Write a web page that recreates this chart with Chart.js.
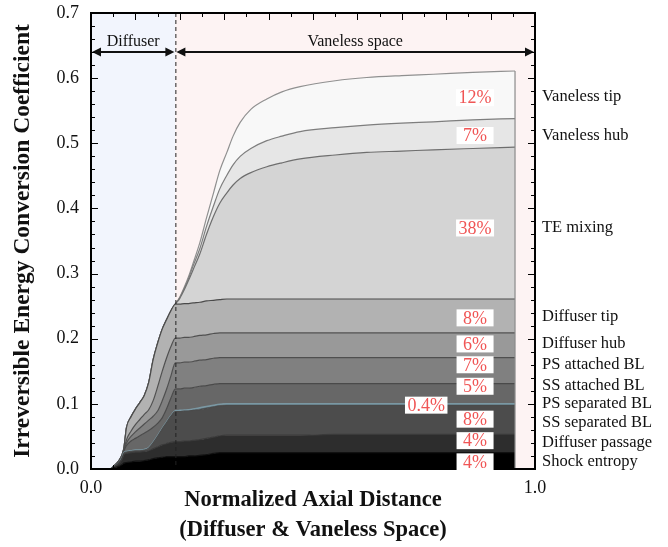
<!DOCTYPE html>
<html>
<head>
<meta charset="utf-8">
<script src="https://cdn.jsdelivr.net/npm/chart.js@4.4.1/dist/chart.umd.min.js"></script>
<style>
  html, body { margin: 0; padding: 0; background: #fff; }
  #wrap { width: 668px; height: 547px; }
</style>
</head>
<body>
<div id="wrap"><canvas id="irrChart" width="668" height="547"></canvas></div>
<script>
// normalized axial distance samples
const xs = [0, 0.043, 0.052, 0.062, 0.07, 0.074, 0.08, 0.09, 0.1, 0.11,
  0.12, 0.13, 0.14, 0.15, 0.16, 0.17, 0.18, 0.19, 0.2, 0.21,
  0.22, 0.23, 0.245, 0.26, 0.276, 0.29, 0.306, 0.32, 0.336, 0.36,
  0.396, 0.43, 0.471, 0.55, 0.621, 0.7, 0.771, 0.86, 0.955];

// cumulative top of each loss layer (bottom to top)
const shockEntropy = [0, 0, 0.002, 0.004, 0.007, 0.009, 0.010, 0.011, 0.012, 0.012,
  0.013, 0.014, 0.016, 0.017, 0.018, 0.019, 0.019, 0.019, 0.019, 0.019,
  0.020, 0.020, 0.021, 0.022, 0.024, 0.025, 0.025, 0.025, 0.025, 0.025,
  0.025, 0.025, 0.025, 0.025, 0.025, 0.025, 0.025, 0.025, 0.025];
const diffuserPassage = [0, 0, 0.003, 0.008, 0.015, 0.022, 0.024, 0.025, 0.026, 0.026,
  0.027, 0.028, 0.031, 0.034, 0.037, 0.039, 0.041, 0.042, 0.042, 0.043,
  0.043, 0.044, 0.045, 0.047, 0.049, 0.051, 0.052, 0.052, 0.052, 0.052,
  0.052, 0.052, 0.052, 0.053, 0.053, 0.053, 0.053, 0.053, 0.053];
const ssSeparatedBL = [0, 0, 0.004, 0.009, 0.017, 0.024, 0.026, 0.027, 0.028, 0.028,
  0.029, 0.032, 0.040, 0.050, 0.061, 0.071, 0.081, 0.088, 0.088, 0.089,
  0.089, 0.090, 0.091, 0.093, 0.095, 0.097, 0.0975, 0.0975, 0.0975, 0.0975,
  0.0975, 0.0975, 0.0975, 0.0975, 0.0975, 0.0975, 0.0975, 0.0975, 0.0975];
const psSeparatedBL = [0, 0, 0.004, 0.009, 0.017, 0.025, 0.027, 0.028, 0.029, 0.029,
  0.030, 0.033, 0.041, 0.051, 0.062, 0.072, 0.082, 0.0895, 0.090, 0.0905,
  0.091, 0.092, 0.094, 0.096, 0.098, 0.0995, 0.100, 0.100, 0.100, 0.100,
  0.100, 0.100, 0.100, 0.100, 0.100, 0.100, 0.100, 0.100, 0.100];
const ssAttachedBL = [0, 0, 0.004, 0.010, 0.018, 0.027, 0.036, 0.043, 0.047, 0.051,
  0.055, 0.059, 0.064, 0.070, 0.078, 0.092, 0.109, 0.123, 0.123, 0.124,
  0.124, 0.125, 0.127, 0.128, 0.130, 0.131, 0.131, 0.131, 0.131, 0.131,
  0.131, 0.131, 0.131, 0.131, 0.131, 0.131, 0.131, 0.131, 0.131];
const psAttachedBL = [0, 0, 0.004, 0.010, 0.019, 0.028, 0.040, 0.050, 0.057, 0.063,
  0.069, 0.075, 0.081, 0.089, 0.104, 0.122, 0.143, 0.163, 0.163, 0.164,
  0.164, 0.165, 0.167, 0.168, 0.170, 0.171, 0.171, 0.171, 0.171, 0.171,
  0.171, 0.171, 0.171, 0.171, 0.171, 0.171, 0.171, 0.171, 0.171];
const diffuserHub = [0, 0, 0.005, 0.011, 0.020, 0.029, 0.045, 0.058, 0.068, 0.076,
  0.084, 0.091, 0.105, 0.126, 0.149, 0.170, 0.188, 0.201, 0.201, 0.202,
  0.202, 0.203, 0.205, 0.206, 0.208, 0.209, 0.209, 0.209, 0.209, 0.209,
  0.209, 0.209, 0.209, 0.209, 0.209, 0.209, 0.209, 0.209, 0.209];
const diffuserTip = [0, 0, 0.005, 0.012, 0.022, 0.032, 0.064, 0.080, 0.092, 0.102,
  0.113, 0.133, 0.168, 0.193, 0.214, 0.229, 0.243, 0.253, 0.253, 0.254,
  0.254, 0.255, 0.256, 0.258, 0.259, 0.260, 0.261, 0.261, 0.261, 0.261,
  0.261, 0.261, 0.261, 0.261, 0.261, 0.261, 0.261, 0.261, 0.261];
const teMixing = [0, 0, 0.005, 0.012, 0.022, 0.032, 0.064, 0.080, 0.092, 0.102,
  0.113, 0.133, 0.168, 0.193, 0.214, 0.229, 0.243, 0.253, 0.262, 0.275,
  0.290, 0.306, 0.330, 0.360, 0.388, 0.408, 0.424, 0.436, 0.446, 0.455,
  0.464, 0.470, 0.476, 0.482, 0.486, 0.488, 0.490, 0.492, 0.494];
const vanelessHub = [0, 0, 0.005, 0.012, 0.022, 0.032, 0.064, 0.080, 0.092, 0.102,
  0.113, 0.133, 0.168, 0.193, 0.214, 0.229, 0.243, 0.253, 0.263, 0.277,
  0.293, 0.312, 0.338, 0.372, 0.404, 0.430, 0.451, 0.467, 0.480, 0.492,
  0.504, 0.511, 0.518, 0.524, 0.528, 0.531, 0.533, 0.536, 0.538];
const vanelessTip = [0, 0, 0.005, 0.012, 0.022, 0.032, 0.064, 0.080, 0.092, 0.102,
  0.113, 0.133, 0.168, 0.193, 0.214, 0.229, 0.243, 0.253, 0.264, 0.279,
  0.296, 0.316, 0.347, 0.385, 0.424, 0.458, 0.486, 0.511, 0.532, 0.552,
  0.568, 0.579, 0.587, 0.596, 0.601, 0.604, 0.606, 0.609, 0.611];

const layerNames = ['Shock entropy', 'Diffuser passage', 'SS separated BL', 'PS separated BL',
  'SS attached BL', 'PS attached BL', 'Diffuser hub', 'Diffuser tip',
  'TE mixing', 'Vaneless hub', 'Vaneless tip'];
const layerTops = [shockEntropy, diffuserPassage, ssSeparatedBL, psSeparatedBL,
  ssAttachedBL, psAttachedBL, diffuserHub, diffuserTip, teMixing, vanelessHub, vanelessTip];

// right-hand labels (top to bottom) and their heights
const sideLabels = ['Vaneless tip', 'Vaneless hub', 'TE mixing', 'Diffuser tip', 'Diffuser hub',
  'PS attached BL', 'SS attached BL', 'PS separated BL', 'SS separated BL',
  'Diffuser passage', 'Shock entropy'];
const sideLabelY = [0.572, 0.511, 0.370, 0.234, 0.192, 0.160, 0.128, 0.100, 0.071, 0.040, 0.011];

// share of each layer
const shareText = ['12%', '7%', '38%', '8%', '6%', '7%', '5%', '0.4%', '8%', '4%', '4%'];
const shareX = [0.865, 0.865, 0.865, 0.865, 0.865, 0.865, 0.865, 0.755, 0.865, 0.865, 0.865];
const shareY = [0.570, 0.512, 0.370, 0.232, 0.192, 0.160, 0.127, 0.098, 0.0765, 0.0435, 0.011];

// zones along the axis
const zoneEdges = [0, 0.19, 1.0];
const zoneNames = ['Diffuser', 'Vaneless space'];
const zoneArrowY = 0.64;
const zoneTextY = 0.65;

const fillColors = ['#000000', '#2d2d2d', '#4c4c4c', '#5b7079', '#676767', '#808080',
  '#999999', '#b2b2b2', '#d4d4d4', '#e6e6e6', '#f8f8f8'];
const lineColors = ['#111111', '#3a3a3a', '#4a4a4a', '#7b98a3', '#4a4a4a', '#4f4f4f',
  '#505050', '#4a4a4a', '#6e6e6e', '#7e7e7e', '#909090'];
const zoneColors = ['#f2f5fd', '#fdf3f3'];

const serif = '"Liberation Serif", "Times New Roman", serif';

const datasets = layerTops.map((tops, i) => ({
  label: layerNames[i],
  data: xs.map((x, j) => ({ x: x, y: tops[j] })),
  fill: i === 0 ? 'origin' : '-1',
  backgroundColor: fillColors[i],
  borderColor: lineColors[i],
  borderWidth: i === 3 ? 1.5 : 1.2,
  pointRadius: 0,
  cubicInterpolationMode: 'monotone'
}));

function arrowHead(ctx, x, y, dir) {
  ctx.beginPath();
  ctx.moveTo(x, y);
  ctx.lineTo(x - dir * 9, y - 4.5);
  ctx.lineTo(x - dir * 9, y + 4.5);
  ctx.closePath();
  ctx.fill();
}

const decorPlugin = {
  id: 'decor',
  beforeDatasetsDraw(chart) {
    const { ctx, chartArea: a, scales: { x } } = chart;
    ctx.save();
    for (let i = 0; i < zoneNames.length; i++) {
      const x0 = x.getPixelForValue(zoneEdges[i]);
      const x1 = x.getPixelForValue(zoneEdges[i + 1]);
      ctx.fillStyle = zoneColors[i];
      ctx.fillRect(x0, a.top, x1 - x0, a.bottom - a.top);
    }
    ctx.restore();
  },
  afterDatasetsDraw(chart) {
    const { ctx, chartArea: a, scales: { x, y } } = chart;
    ctx.save();

    // right edge of the stacked areas
    const last = xs.length - 1;
    const xe = x.getPixelForValue(xs[last]);
    ctx.strokeStyle = '#8a8a8a';
    ctx.lineWidth = 1.2;
    ctx.beginPath();
    ctx.moveTo(xe, y.getPixelForValue(0));
    ctx.lineTo(xe, y.getPixelForValue(vanelessTip[last]));
    ctx.stroke();

    // dashed zone divider
    const xd = x.getPixelForValue(zoneEdges[1]);
    ctx.strokeStyle = '#222';
    ctx.lineWidth = 1;
    ctx.setLineDash([4, 3]);
    ctx.beginPath();
    ctx.moveTo(xd + 0.5, a.top);
    ctx.lineTo(xd + 0.5, a.bottom);
    ctx.stroke();
    ctx.setLineDash([]);

    // zone arrows and names
    const ya = y.getPixelForValue(zoneArrowY);
    ctx.strokeStyle = '#111';
    ctx.fillStyle = '#111';
    ctx.lineWidth = 2;
    ctx.font = '16px ' + serif;
    ctx.textAlign = 'center';
    ctx.textBaseline = 'alphabetic';
    for (let i = 0; i < zoneNames.length; i++) {
      const x0 = x.getPixelForValue(zoneEdges[i]) + 1;
      const x1 = x.getPixelForValue(zoneEdges[i + 1]) - 1;
      ctx.beginPath();
      ctx.moveTo(x0 + 4, ya);
      ctx.lineTo(x1 - 4, ya);
      ctx.stroke();
      arrowHead(ctx, x0, ya, -1);
      arrowHead(ctx, x1, ya, 1);
      ctx.fillText(zoneNames[i], (x0 + x1) / 2, y.getPixelForValue(zoneTextY));
    }

    // frame
    ctx.strokeStyle = '#000';
    ctx.lineWidth = 2;
    ctx.strokeRect(a.left, a.top, a.right - a.left, a.bottom - a.top);

    // inward ticks
    ctx.lineWidth = 1;
    ctx.beginPath();
    for (let k = 0; k <= 35; k++) {
      const py = Math.round(y.getPixelForValue(k * 0.02)) + 0.5;
      const len = k % 5 === 0 ? 7 : 4;
      ctx.moveTo(a.left, py); ctx.lineTo(a.left + len, py);
      ctx.moveTo(a.right, py); ctx.lineTo(a.right - len, py);
    }
    for (let k = 0; k <= 20; k++) {
      const px = Math.round(x.getPixelForValue(k * 0.05)) + 0.5;
      const len = k % 2 === 0 ? 7 : 4;
      ctx.moveTo(px, a.top); ctx.lineTo(px, a.top + len);
      ctx.moveTo(px, a.bottom); ctx.lineTo(px, a.bottom - len);
    }
    ctx.stroke();

    // share boxes
    ctx.font = '18px ' + serif;
    ctx.textAlign = 'center';
    ctx.textBaseline = 'middle';
    shareText.forEach((t, i) => {
      const cx = x.getPixelForValue(shareX[i]);
      const cy = y.getPixelForValue(shareY[i]);
      const w = Math.max(ctx.measureText(t).width + 5, 37);
      ctx.fillStyle = '#ffffff';
      ctx.fillRect(cx - w / 2, cy - 8.5, w, 17);
      ctx.fillStyle = '#f05555';
      ctx.fillText(t, cx, cy + 1);
    });

    // layer names on the right
    ctx.font = '16.5px ' + serif;
    ctx.textAlign = 'left';
    ctx.fillStyle = '#111';
    sideLabels.forEach((t, i) => {
      ctx.fillText(t, a.right + 7, y.getPixelForValue(sideLabelY[i]));
    });

    ctx.restore();
  }
};

new Chart(document.getElementById('irrChart'), {
  type: 'line',
  data: { datasets: datasets },
  options: {
    responsive: false,
    animation: false,
    layout: { padding: { left: 0, top: 13, right: 133, bottom: 2 } },
    plugins: {
      legend: { display: false },
      tooltip: { enabled: false }
    },
    scales: {
      x: {
        type: 'linear',
        min: 0,
        max: 1,
        grid: { display: false, drawTicks: false },
        border: { display: false },
        ticks: {
          stepSize: 1,
          padding: 8,
          color: '#111',
          font: { family: serif, size: 18 },
          callback: (v) => v.toFixed(1)
        },
        title: {
          display: true,
          text: ['Normalized Axial Distance', '(Diffuser & Vaneless Space)'],
          color: '#111',
          font: { family: serif, size: 22.5, weight: 'bold', lineHeight: 1.33 },
          padding: { top: 0, bottom: 0 }
        },
        afterFit: (s) => { s.height = 76; }
      },
      y: {
        min: 0,
        max: 0.7,
        grid: { display: false, drawTicks: false },
        border: { display: false },
        ticks: {
          stepSize: 0.1,
          padding: 12,
          color: '#111',
          font: { family: serif, size: 18 },
          callback: (v) => v.toFixed(1)
        },
        title: {
          display: true,
          text: 'Irreversible Energy Conversion Coefficient',
          color: '#111',
          font: { family: serif, size: 23.5, weight: 'bold', lineHeight: 1.2 },
          padding: { top: 9, bottom: 0 }
        },
        afterFit: (s) => {
          s.width = 91;
          s.paddingTop = 0;
          s.paddingBottom = 0;
        }
      }
    }
  },
  plugins: [decorPlugin]
});
</script>
</body>
</html>
